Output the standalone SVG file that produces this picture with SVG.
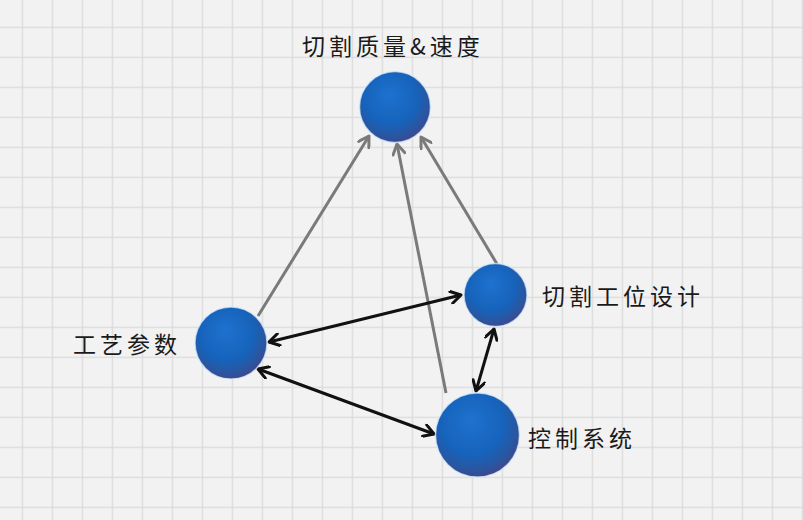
<svg xmlns="http://www.w3.org/2000/svg" width="803" height="520" viewBox="0 0 803 520">
<defs>
<pattern id="grid" x="21.7" y="26.7" width="30" height="30" patternUnits="userSpaceOnUse">
<path d="M0,0 V30 M0,0 H30" stroke="#dadada" stroke-width="2.6" fill="none"/>
</pattern>
<radialGradient id="ball" cx="0.45" cy="0.4" r="0.62" fx="0.42" fy="0.32">
<stop offset="0" stop-color="#1e72cf"/>
<stop offset="0.6" stop-color="#1663bb"/>
<stop offset="0.85" stop-color="#2a56a0"/>
<stop offset="1" stop-color="#44448a"/>
</radialGradient>
<marker id="ag" viewBox="0 0 14 14" refX="12" refY="7" markerWidth="14" markerHeight="14" markerUnits="userSpaceOnUse" orient="auto-start-reverse">
<path d="M2,1 L12,7 L2,13" fill="none" stroke="#7a7a7a" stroke-width="3" stroke-linecap="round" stroke-linejoin="round"/>
</marker>
<marker id="ab" viewBox="0 0 14 14" refX="12" refY="7" markerWidth="14" markerHeight="14" markerUnits="userSpaceOnUse" orient="auto-start-reverse">
<path d="M2,1 L12,7 L2,13" fill="none" stroke="#111" stroke-width="3" stroke-linecap="round" stroke-linejoin="round"/>
</marker>
</defs>
<style>
.bg{fill:#f2f2f2}
.ball{fill:url(#ball);stroke:#d6ecff;stroke-width:1.5;stroke-opacity:0.7}
.g{stroke:#7a7a7a;stroke-width:3;fill:none;marker-end:url(#ag)}
.b{stroke:#111;stroke-width:3;fill:none;marker-start:url(#ab);marker-end:url(#ab)}
.t{font-family:"Noto Sans CJK SC","Noto Sans",sans-serif;font-size:23px;fill:#1a1a1a;letter-spacing:4px}
</style>
<rect class="bg" width="803" height="520"/>
<rect width="803" height="520" fill="url(#grid)"/>
<g id="connectors">
<line class="g" x1="258" y1="316" x2="369" y2="136"/>
<line class="g" x1="446" y1="393" x2="397" y2="144"/>
<line class="g" x1="497" y1="264" x2="421" y2="137"/>
<line class="b" x1="269" y1="342" x2="461" y2="295"/>
<line class="b" x1="258" y1="369" x2="434" y2="434"/>
<line class="b" x1="494" y1="329" x2="476" y2="391"/>
</g>
<g id="node-top">
<circle class="ball" cx="395" cy="107" r="35.5"/>
<text class="t" x="302" y="55">切割质量&amp;速度</text>
</g>
<g id="node-left">
<circle class="ball" cx="231" cy="343" r="36"/>
<text class="t" x="73" y="353">工艺参数</text>
</g>
<g id="node-right">
<circle class="ball" cx="495.5" cy="295" r="31.5"/>
<text class="t" x="542" y="305">切割工位设计</text>
</g>
<g id="node-bottom">
<circle class="ball" cx="477.5" cy="435" r="42"/>
<text class="t" x="528" y="447">控制系统</text>
</g>
</svg>
